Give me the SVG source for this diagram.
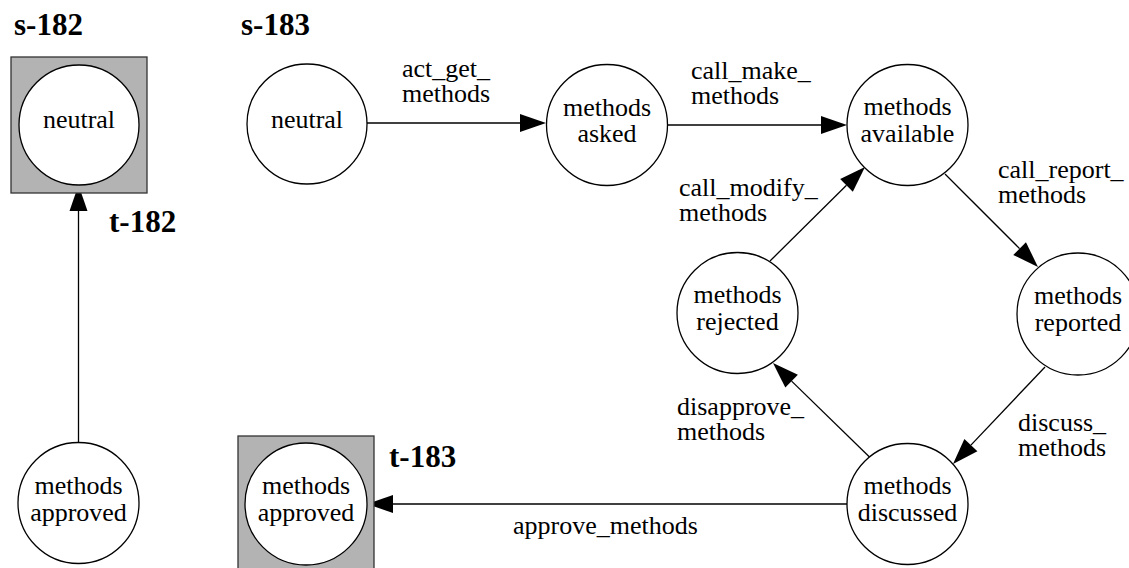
<svg xmlns="http://www.w3.org/2000/svg" width="1129" height="568" viewBox="0 0 1129 568">
<style>
  .node circle { fill: #ffffff; stroke: #000000; stroke-width: 1.3; }
  .box { fill: #b3b3b3; stroke: #333333; stroke-width: 1.3; }
  .nt { font-family: "Liberation Serif", "Times New Roman", serif; font-size: 26px; fill: #000000; text-anchor: middle; }
  .el { font-family: "Liberation Serif", "Times New Roman", serif; font-size: 26px; fill: #000000; }
  .title { font-family: "Liberation Serif", "Times New Roman", serif; font-size: 31px; font-weight: bold; fill: #000000; }
  .edge { stroke: #000000; stroke-width: 1.3; fill: none; marker-end: url(#arrow); }
</style>
<defs>
  <marker id="arrow" markerUnits="userSpaceOnUse" markerWidth="26" markerHeight="18" viewBox="0 0 26 18" refX="0" refY="9" orient="auto" overflow="visible">
    <path d="M0,0 L26,9 L0,18 Z" fill="#000000"/>
  </marker>
</defs>
<rect width="1129" height="568" fill="#ffffff"/>

<g id="titles">
  <text class="title" x="14" y="35">s-182</text>
  <text class="title" x="241" y="35">s-183</text>
  <text class="title" x="109" y="232">t-182</text>
  <text class="title" x="389" y="467">t-183</text>
</g>

<g id="connectors">
  <line class="edge" x1="78.5" y1="443" x2="78.5" y2="211"/>
  <line class="edge" x1="367" y1="123" x2="520" y2="123"/>
  <line class="edge" x1="668" y1="125" x2="821" y2="125"/>
  <line class="edge" x1="945" y1="174" x2="1019.6" y2="248.6"/>
  <line class="edge" x1="1045" y1="367" x2="970.9" y2="445.1"/>
  <line class="edge" x1="869.5" y1="457" x2="791.6" y2="381.1"/>
  <line class="edge" x1="770" y1="261" x2="846.5" y2="185.3"/>
  <line class="edge" x1="847" y1="504" x2="393" y2="504"/>
  <text class="el" x="402" y="77">act_get_</text>
  <text class="el" x="402" y="102">methods</text>
  <text class="el" x="691" y="79">call_make_</text>
  <text class="el" x="691" y="104">methods</text>
  <text class="el" x="679" y="196">call_modify_</text>
  <text class="el" x="679" y="221">methods</text>
  <text class="el" x="998" y="178">call_report_</text>
  <text class="el" x="998" y="203">methods</text>
  <text class="el" x="677" y="415">disapprove_</text>
  <text class="el" x="677" y="440">methods</text>
  <text class="el" x="1018" y="431">discuss_</text>
  <text class="el" x="1018" y="456">methods</text>
  <text class="el" x="513" y="534">approve_methods</text>
</g>

<g id="s182-neutral" class="node">
  <rect class="box" x="11" y="57" width="136" height="136"/>
  <circle cx="79" cy="125" r="60"/>
  <text class="nt" x="79" y="128">neutral</text>
</g>
<g id="t182-methods-approved" class="node">
  <circle cx="78.5" cy="503" r="60.5"/>
  <text class="nt" x="78.5" y="494">methods</text>
  <text class="nt" x="78.5" y="521">approved</text>
</g>
<g id="s183-neutral" class="node">
  <circle cx="307" cy="124" r="60"/>
  <text class="nt" x="307" y="128">neutral</text>
</g>
<g id="methods-asked" class="node">
  <circle cx="607" cy="125" r="60.5"/>
  <text class="nt" x="607" y="116">methods</text>
  <text class="nt" x="607" y="142">asked</text>
</g>
<g id="methods-available" class="node">
  <circle cx="907.5" cy="125" r="60.5"/>
  <text class="nt" x="907.5" y="115">methods</text>
  <text class="nt" x="907.5" y="142">available</text>
</g>
<g id="methods-rejected" class="node">
  <circle cx="737.5" cy="313" r="60.5"/>
  <text class="nt" x="737.5" y="303">methods</text>
  <text class="nt" x="737.5" y="330">rejected</text>
</g>
<g id="methods-reported" class="node">
  <circle cx="1078" cy="314" r="61"/>
  <text class="nt" x="1078" y="304">methods</text>
  <text class="nt" x="1078" y="331">reported</text>
</g>
<g id="methods-discussed" class="node">
  <circle cx="907.5" cy="504" r="60.5"/>
  <text class="nt" x="907.5" y="494">methods</text>
  <text class="nt" x="907.5" y="521">discussed</text>
</g>
<g id="t183-methods-approved" class="node">
  <rect class="box" x="238" y="436" width="136" height="136"/>
  <circle cx="306" cy="504" r="61"/>
  <text class="nt" x="306" y="494">methods</text>
  <text class="nt" x="306" y="521">approved</text>
</g>
</svg>
